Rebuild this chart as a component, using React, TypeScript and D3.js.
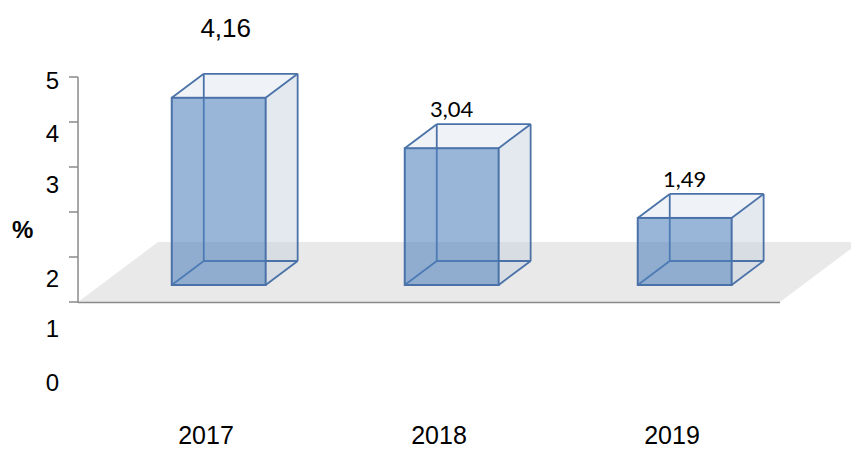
import React, { useEffect, useRef } from "react";
import * as d3 from "d3";

// values
const years = ["2017", "2018", "2019"];
const rates = [4.16, 3.04, 1.49];
const rateLabels = ["4,16", "3,04", "1,49"];
const axisTicks = [0, 1, 2, 3, 4, 5];
const axisTickLabels = ["0", "1", "2", "3", "4", "5"];

const sizes = { width: 851, height: 450 };
const plot = { left: 78, right: 780, top: 77, bottom: 302 };
const floorDepth = { dx: 80, dy: 60 };
const barDepth = { dx: 32, dy: 24 };
const barInset = { dx: 22.7, dy: 17 };

const edgeColor = "#4a72a8";
const sans = "'Liberation Sans', Arial, sans-serif";

export default function App() {
  const ref = useRef<SVGSVGElement>(null);

  useEffect(() => {
    const svg = d3.select(ref.current);
    svg.selectAll("*").remove();

    const x = d3
      .scaleBand()
      .domain(years)
      .range([plot.left, plot.right])
      .paddingInner(0.597)
      .paddingOuter(0.305);

    const y = d3.scaleLinear().domain([0, 5]).range([plot.bottom, plot.top]);

    // the tick labels in the original sit off their ticks (the "%" takes a slot)
    const labelY = d3
      .scaleLinear()
      .domain([0, 1, 2, 3, 4, 5])
      .range([391, 337, 287, 193, 142, 89]);

    // floor
    const fl = plot.left, fr = plot.right, fb = plot.bottom;
    svg
      .append("polygon")
      .attr(
        "points",
        [
          [fl, fb],
          [fr, fb],
          [fr + floorDepth.dx, fb - floorDepth.dy],
          [fl + floorDepth.dx, fb - floorDepth.dy],
        ].join(" ")
      )
      .attr("fill", "#e9e9e9");

    svg
      .append("line")
      .attr("x1", fl)
      .attr("x2", fr)
      .attr("y1", fb + 0.5)
      .attr("y2", fb + 0.5)
      .attr("stroke", "#8a8a8a")
      .attr("stroke-width", 1.5);

    // value axis
    const axis = svg.append("g").attr("stroke", "#8a8a8a").attr("stroke-width", 1.5);
    axis
      .append("line")
      .attr("x1", plot.left)
      .attr("x2", plot.left)
      .attr("y1", y(5))
      .attr("y2", y(0) + 1);
    axis
      .selectAll("line.tick")
      .data(axisTicks)
      .join("line")
      .attr("class", "tick")
      .attr("x1", plot.left - 9)
      .attr("x2", plot.left)
      .attr("y1", (d) => y(d))
      .attr("y2", (d) => y(d));

    svg
      .append("g")
      .selectAll("text")
      .data(axisTicks)
      .join("text")
      .attr("x", 59)
      .attr("y", (d) => labelY(d))
      .attr("text-anchor", "end")
      .style("font-family", sans)
      .style("font-size", "24px")
      .attr("fill", "#000")
      .text((d, i) => axisTickLabels[i]);

    svg
      .append("text")
      .attr("x", 12)
      .attr("y", 238)
      .style("font-family", sans)
      .style("font-size", "24px")
      .style("font-weight", "bold")
      .text("%");

    // bars
    const bw = x.bandwidth();
    const bars = svg.append("g");
    years.forEach((yr, i) => {
      const v = rates[i];
      const x0 = (x(yr) as number) + barInset.dx;
      const x1 = x0 + bw;
      const yb = y(0) - barInset.dy;
      const yt = y(v) - barInset.dy;
      const dx = barDepth.dx, dy = barDepth.dy;
      const g = bars.append("g");

      // side face
      g.append("polygon")
        .attr("points", [[x1, yt], [x1 + dx, yt - dy], [x1 + dx, yb - dy], [x1, yb]].join(" "))
        .attr("fill", "rgba(196,204,220,0.45)");
      // top face
      g.append("polygon")
        .attr("points", [[x0, yt], [x0 + dx, yt - dy], [x1 + dx, yt - dy], [x1, yt]].join(" "))
        .attr("fill", "rgba(214,222,236,0.4)");

      // back edges
      const back = [
        [[x0 + dx, yt - dy], [x1 + dx, yt - dy]],
        [[x0 + dx, yb - dy], [x1 + dx, yb - dy]],
        [[x0 + dx, yt - dy], [x0 + dx, yb - dy]],
        [[x1 + dx, yt - dy], [x1 + dx, yb - dy]],
        [[x0, yt], [x0 + dx, yt - dy]],
        [[x1, yt], [x1 + dx, yt - dy]],
        [[x0, yb], [x0 + dx, yb - dy]],
        [[x1, yb], [x1 + dx, yb - dy]],
      ];
      g.selectAll("line.back")
        .data(back)
        .join("line")
        .attr("class", "back")
        .attr("x1", (d) => d[0][0])
        .attr("y1", (d) => d[0][1])
        .attr("x2", (d) => d[1][0])
        .attr("y2", (d) => d[1][1])
        .attr("stroke", edgeColor)
        .attr("stroke-width", 1.8);

      // front face
      g.append("rect")
        .attr("x", x0)
        .attr("y", yt)
        .attr("width", bw)
        .attr("height", yb - yt)
        .attr("fill", "rgba(79,129,189,0.58)")
        .attr("stroke", edgeColor)
        .attr("stroke-width", 2);

      // value label, the tallest one sits above the plot
      const isMax = v === d3.max(rates);
      g.append("text")
        .attr("x", isMax ? x0 + bw / 2 + 7 : x0 + bw / 2)
        .attr("y", isMax ? y(5) - 40 : yt - dy - 7)
        .attr("text-anchor", "middle")
        .style("font-family", isMax ? sans : "Lato, Carlito, sans-serif")
        .style("font-size", isMax ? "26px" : "22px")
        .attr("fill", "#000")
        .text(rateLabels[i]);

      // category label
      g.append("text")
        .attr("x", (x(yr) as number) + bw / 2 + 10)
        .attr("y", 444)
        .attr("text-anchor", "middle")
        .style("font-family", sans)
        .style("font-size", "25px")
        .attr("fill", "#000")
        .text(yr);
    });
  }, []);

  return (
    <svg
      ref={ref}
      width={sizes.width}
      height={sizes.height}
      style={{ position: "absolute", left: 0, top: 0, background: "#fff" }}
    ></svg>
  );
}
